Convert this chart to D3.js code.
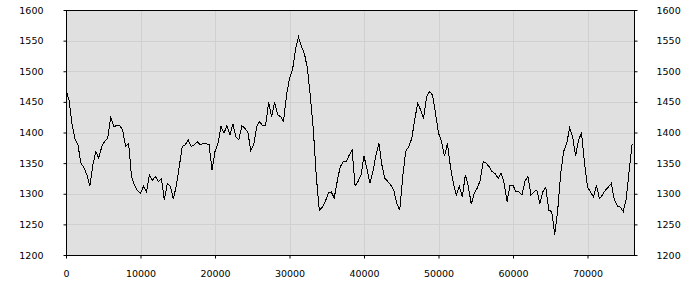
<!DOCTYPE html>
<html>
<head>
<meta charset="utf-8">
<script src="https://cdn.jsdelivr.net/npm/d3@7"></script>
<style>
  body { margin: 0; background: #fff; }
  svg text { font-family: "DejaVu Sans", sans-serif; font-size: 9.5px; fill: #000; }
</style>
</head>
<body>
<svg id="chart" width="700" height="300"></svg>
<script>
// sampled every 400 units along x
var step = 400;
var values = [
  1470, 1453, 1415, 1390, 1380, 1350, 1343, 1331, 1313, 1347,
  1369, 1358, 1377, 1386, 1390, 1426, 1410, 1411, 1412, 1404,
  1377, 1382, 1328, 1314, 1305, 1301, 1312, 1303, 1331, 1322,
  1328, 1320, 1325, 1290, 1317, 1312, 1292, 1312, 1344, 1377,
  1380, 1388, 1377, 1380, 1385, 1380, 1382, 1382, 1380, 1339,
  1369, 1382, 1410, 1399, 1411, 1396, 1414, 1393, 1388, 1411,
  1407, 1401, 1371, 1380, 1410, 1418, 1411, 1412, 1450, 1426,
  1450, 1429, 1426, 1418, 1461, 1488, 1502, 1535, 1556, 1540,
  1529, 1505, 1459, 1404, 1328, 1273, 1278, 1287, 1301, 1303,
  1293, 1320, 1344, 1352, 1352, 1363, 1371, 1313, 1320, 1331,
  1361, 1341, 1317, 1336, 1363, 1382, 1347, 1325, 1320, 1314,
  1306, 1284, 1273, 1328, 1369, 1377, 1390, 1420, 1448, 1437,
  1423, 1458, 1467, 1461, 1431, 1399, 1385, 1361, 1382, 1344,
  1317, 1298, 1312, 1295, 1331, 1312, 1283, 1301, 1309, 1322,
  1352, 1350, 1344, 1336, 1333, 1325, 1334, 1318, 1287, 1314,
  1314, 1303, 1303, 1298, 1320, 1329, 1298, 1303, 1306, 1284,
  1303, 1311, 1273, 1271, 1233, 1273, 1333, 1369, 1382, 1407,
  1393, 1362, 1388, 1399, 1350, 1311, 1303, 1295, 1314, 1292,
  1298, 1306, 1311, 1317, 1290, 1280, 1278, 1271, 1292, 1339,
  1382
];
var xTicks = [0, 10000, 20000, 30000, 40000, 50000, 60000, 70000];
var yTicks = [1200, 1250, 1300, 1350, 1400, 1450, 1500, 1550, 1600];

var plotL = 66, plotR = 634, plotT = 10, plotB = 255;
var svg = d3.select('#chart');

var x = d3.scaleLinear()
  .domain([0, 76240])
  .range([plotL, plotR]);

var y = d3.scaleLinear()
  .domain([1200, 1600])
  .range([plotB, plotT]);

svg.append('rect')
  .attr('x', plotL)
  .attr('y', plotT)
  .attr('width', plotR - plotL)
  .attr('height', plotB - plotT)
  .attr('fill', '#e0e0e0');

// grid
svg.append('g')
  .selectAll('line')
  .data(xTicks.slice(1))
  .join('line')
    .attr('x1', d => Math.round(x(d)) + 0.5)
    .attr('x2', d => Math.round(x(d)) + 0.5)
    .attr('y1', plotT)
    .attr('y2', plotB)
    .attr('stroke', '#d0d0d0');

svg.append('g')
  .selectAll('line')
  .data(yTicks.slice(1, -1))
  .join('line')
    .attr('x1', plotL)
    .attr('x2', plotR)
    .attr('y1', d => Math.round(y(d)) + 0.5)
    .attr('y2', d => Math.round(y(d)) + 0.5)
    .attr('stroke', '#d0d0d0');

var line = d3.line()
  .x((d, i) => x(i * step))
  .y(d => y(d));

svg.append('path')
  .datum(values)
  .attr('d', line)
  .attr('fill', 'none')
  .attr('stroke', '#000')
  .attr('stroke-width', 1)
  .attr('shape-rendering', 'crispEdges');

var axisL = d3.axisLeft(y).tickValues(yTicks).tickSize(3).tickSizeOuter(0).tickPadding(20)
  .tickFormat(d3.format('d'));
var axisR = d3.axisRight(y).tickValues(yTicks).tickSize(3).tickSizeOuter(0).tickPadding(19)
  .tickFormat(d3.format('d'));
var axisB = d3.axisBottom(x).tickValues(xTicks).tickSize(3).tickSizeOuter(0).tickPadding(12)
  .tickFormat(d3.format('d'));

svg.append('g').attr('transform', 'translate(' + (plotL + 0.5) + ',0)').call(axisL);
svg.append('g').attr('transform', 'translate(' + (plotR + 0.5) + ',0)').call(axisR);
svg.append('g').attr('transform', 'translate(0,' + (plotB + 0.5) + ')').call(axisB);

svg.selectAll('.tick text').attr('font-family', null).attr('font-size', null);
svg.selectAll('.domain').remove();

svg.append('rect')
  .attr('x', plotL + 0.5)
  .attr('y', plotT + 0.5)
  .attr('width', plotR - plotL)
  .attr('height', plotB - plotT)
  .attr('fill', 'none')
  .attr('stroke', '#000');
</script>
</body>
</html>
